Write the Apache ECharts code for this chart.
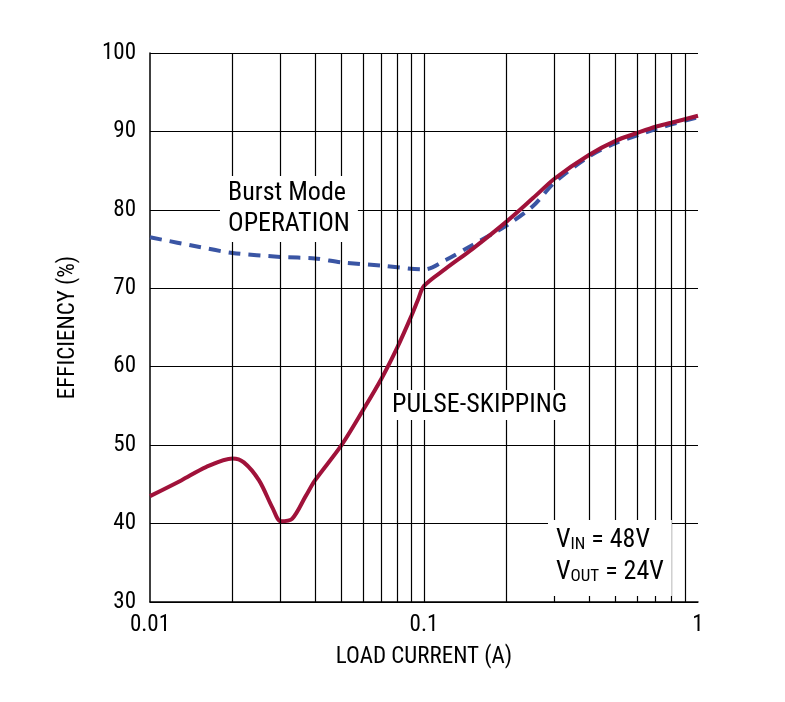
<!DOCTYPE html>
<html><head><meta charset="utf-8">
<script src="https://cdn.jsdelivr.net/npm/echarts@6/dist/echarts.min.js"></script>
<style>html,body{margin:0;background:#fff}#c{width:785px;height:702px}</style></head>
<body><div id="c"></div>
<script>
const pulseX=[0.01,0.013,0.016,0.02,0.022,0.025,0.028,0.03,0.033,0.037,0.04,0.05,0.06,0.07,0.08,0.09,0.095,0.1,0.12,0.15,0.2,0.25,0.3,0.4,0.5,0.6,0.7,0.8,1];
const pulseY=[43.5,45.5,47.2,48.3,47.8,45.5,42,40.3,40.6,43.5,45.5,50,54.5,58.5,62.5,66.5,68.5,70.3,72.5,75,78.5,81.5,84,87,88.8,89.8,90.6,91.1,92];
const burstX=[0.01,0.015,0.02,0.03,0.04,0.05,0.07,0.1,0.12,0.15,0.2,0.25,0.3,0.4,0.5,0.6,0.7,0.8,1];
const burstY=[76.5,75.3,74.5,74,73.8,73.3,72.9,72.4,73.6,75.5,78,80.5,83.5,86.8,88.5,89.5,90.3,90.9,91.8];
const vGrid=[0.02,0.03,0.04,0.05,0.06,0.07,0.08,0.09,0.1,0.2,0.3,0.4,0.5,0.6,0.7,0.8,0.9];
const F='"Liberation Sans Narrow","Roboto Condensed",Roboto,sans-serif';
const ch=echarts.init(document.getElementById('c'));
ch.setOption({
 animation:false,
 grid:{left:150,top:53,width:548,height:549},
 xAxis:{type:'log',min:0.01,max:1,logBase:10,name:'LOAD CURRENT (A)',nameLocation:'middle',nameGap:44,
  nameTextStyle:{fontFamily:F,fontSize:23,color:'#000'},
  axisLine:{lineStyle:{color:'#000',width:1.5}},axisTick:{show:false},splitLine:{show:false},
  axisLabel:{fontFamily:F,fontSize:23,color:'#000',margin:12,formatter:v=>String(+v.toPrecision(2))}},
 yAxis:{type:'value',min:30,max:100,interval:10,name:'EFFICIENCY (%)',nameLocation:'middle',nameGap:70,
  nameTextStyle:{fontFamily:F,fontSize:23,color:'#000'},
  axisLine:{show:true,lineStyle:{color:'#000',width:1.5}},axisTick:{show:false},
  splitLine:{lineStyle:{color:'#000',width:1.2}},
  axisLabel:{fontFamily:F,fontSize:23,color:'#000',margin:14}},
 series:[
  {type:'line',data:[],markLine:{silent:true,symbol:'none',label:{show:false},lineStyle:{color:'#000',width:1.2,type:'solid'},data:vGrid.map(v=>({xAxis:v}))}},
  {type:'line',smooth:0.3,showSymbol:false,data:burstX.map((x,i)=>[x,burstY[i]]),lineStyle:{color:'#3a55a4',width:4,type:[12,8]},z:3},
  {type:'line',smooth:0.3,showSymbol:false,data:pulseX.map((x,i)=>[x,pulseY[i]]),lineStyle:{color:'#a0123a',width:4},z:4}
 ],
 graphic:[
  {type:'text',left:220,top:176,style:{text:'Burst Mode\nOPERATION',fontFamily:F,fontSize:26,lineHeight:31,fill:'#000',backgroundColor:'#fff',padding:[2,8]},z:10},
  {type:'text',left:384,top:390,style:{text:'PULSE-SKIPPING',fontFamily:F,fontSize:26,fill:'#000',backgroundColor:'#fff',padding:[2,8]},z:10},
  {type:'text',left:548,top:520,style:{text:'{a|V}{s|IN}{a| = 48V}\n{a|V}{s|OUT}{a| = 24V}',backgroundColor:'#fff',padding:[4,8,8,8],
   rich:{a:{fontFamily:F,fontSize:26,fill:'#000',lineHeight:32},s:{fontFamily:F,fontSize:17,fill:'#000',lineHeight:32,padding:[10,0,0,0]}}},z:10}
 ]
});
</script></body></html>
